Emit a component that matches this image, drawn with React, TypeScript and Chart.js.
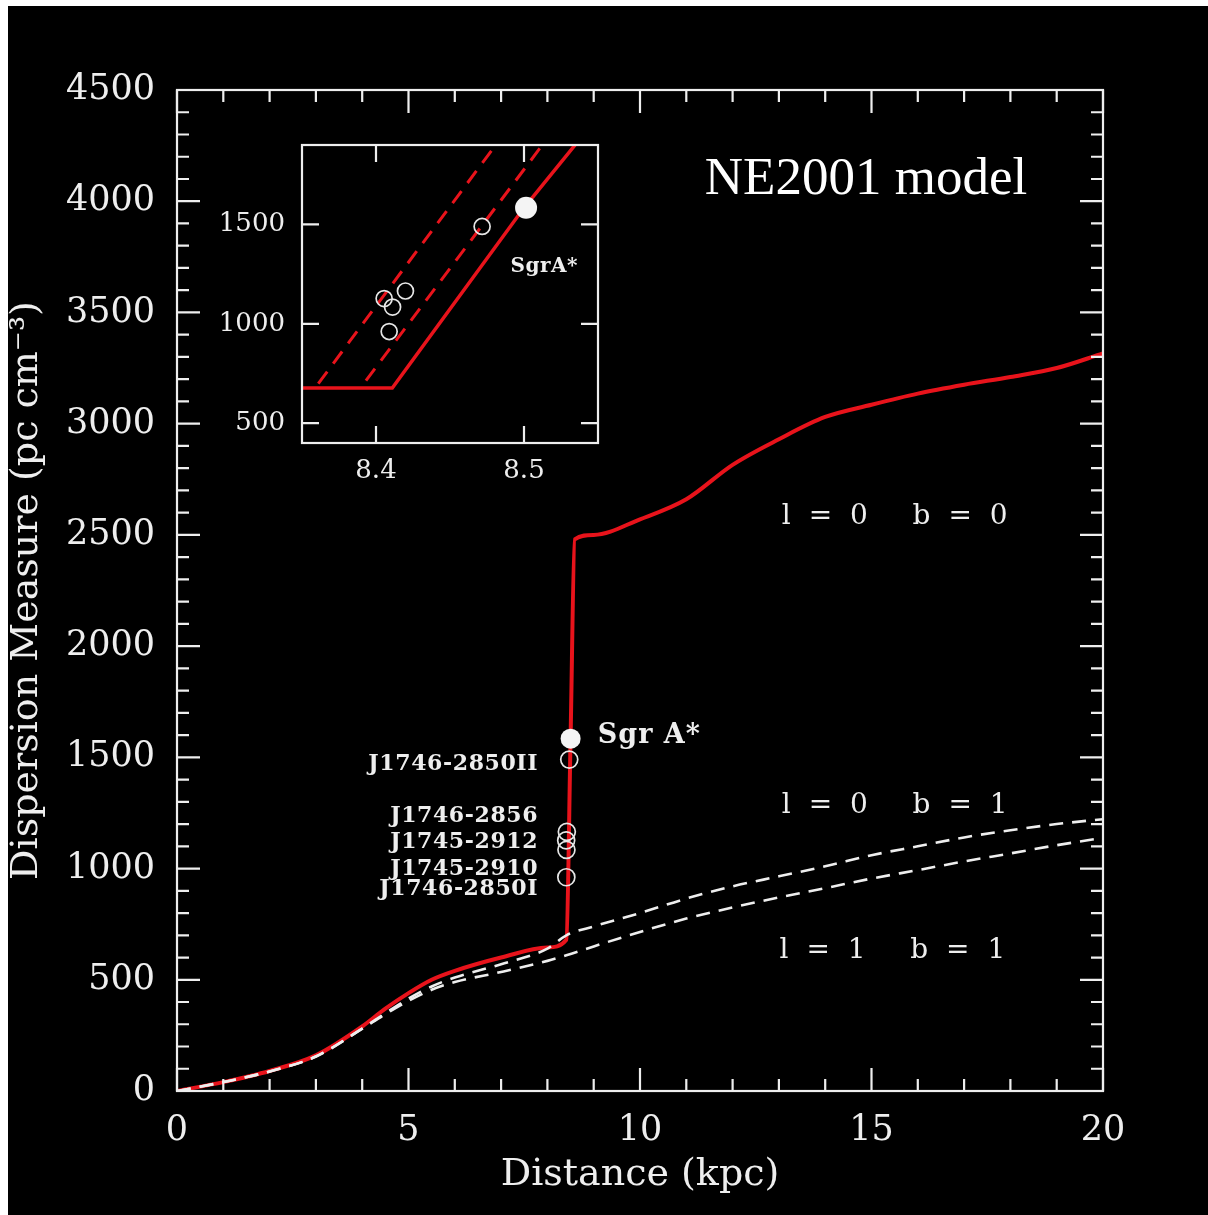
import React, { useEffect, useRef } from 'react';
import { Chart, registerables } from 'chart.js';
Chart.register(...registerables);

// ---------- data ----------
// l = 0, b = 0 (solid red)
const redDist = [0, 1, 2, 3, 4, 4.5, 5, 5.5, 6, 7, 8, 8.41, 8.5, 8.59, 9, 10, 11, 12, 13, 14, 15, 16, 17, 18, 19, 20];
const redDM = [0, 40, 90, 160, 290, 370, 440, 500, 540, 600, 645, 680, 1580, 2480, 2500, 2570, 2660, 2815, 2930, 3030, 3085, 3135, 3175, 3210, 3250, 3316];
// l = 0, b = 1 (white dashed, upper)
const b1Dist = [0, 1, 2, 3, 4, 4.5, 5, 5.5, 6, 7, 8, 8.41, 9, 10, 11, 12, 13, 14, 15, 16, 17, 18, 19, 20];
const b1DM = [0, 40, 88, 155, 280, 350, 415, 470, 510, 570, 640, 700, 740, 800, 865, 920, 965, 1010, 1060, 1100, 1140, 1172, 1200, 1222];
// l = 1, b = 1 (white dashed, lower)
const l1Dist = [0, 1, 2, 3, 4, 4.5, 5, 5.5, 6, 7, 8, 8.41, 9, 10, 11, 12, 13, 14, 15, 16, 17, 18, 19, 20];
const l1DM = [0, 40, 88, 155, 280, 345, 405, 455, 490, 535, 585, 610, 650, 715, 775, 825, 870, 912, 955, 993, 1032, 1068, 1105, 1138];
// pulsars (open circles)
const pulsarNames = ['J1746-2850II', 'J1746-2856', 'J1745-2912', 'J1745-2910', 'J1746-2850I'];
const pulsarDist = [8.4717, 8.4199, 8.4055, 8.4112, 8.4089];
const pulsarDM = [1490, 1165, 1127, 1084, 961];
// Sgr A* (filled)
const sgrDist = [8.5014];
const sgrDM = [1584];
// inset lines
const insetSolidDist = [8.35, 8.411, 8.5, 8.5356];
const insetSolidDM = [677, 677, 1584, 1910];
const insetDash1Dist = [8.361, 8.4822];
const insetDash1DM = [699, 1913];
const insetDash2Dist = [8.3932, 8.5137];
const insetDash2DM = [714, 1913];
// tick labels
const mainXTicks = [0, 5, 10, 15, 20];
const mainYTicks = [0, 500, 1000, 1500, 2000, 2500, 3000, 3500, 4000, 4500];
const insetXTicks = [8.4, 8.5];
const insetYTicks = [500, 1000, 1500];

// ---------- styles ----------
const WHITE = '#eeeeee';
const RED = '#e8131b';
const SERIF = "'DejaVu Serif', serif";
const TIMES = "'Liberation Serif', serif";

const pts = (xs: number[], ys: number[]) => xs.map((x, i) => ({ x, y: ys[i] }));

const frameTicksPlugin = {
  id: 'frameTicks',
  afterDatasetsDraw(chart: any) {
    const o = chart.options.plugins.frameTicks;
    if (!o) return;
    const { ctx, chartArea: a, scales } = chart;
    const xs = scales.x, ys = scales.y;
    ctx.save();
    ctx.strokeStyle = o.color;
    ctx.lineWidth = o.lineWidth;
    ctx.beginPath();
    const xMaj = xs.ticks.map((t: any) => t.value);
    const yMaj = ys.ticks.map((t: any) => t.value);
    const isMaj = (v: number, arr: number[]) => arr.some((m) => Math.abs(m - v) < 1e-6);
    const vals = (min: number, max: number, step: number) => {
      const out: number[] = [];
      if (!step) return out;
      for (let i = Math.ceil(min / step - 1e-9); i * step <= max + 1e-9; i++) out.push(+(i * step).toFixed(6));
      return out;
    };
    const xv = Array.from(new Set([...xMaj, ...vals(xs.min, xs.max, o.xMinor)]));
    const yv = Array.from(new Set([...yMaj, ...vals(ys.min, ys.max, o.yMinor)]));
    xv.forEach((v: number) => {
      const p = xs.getPixelForValue(v);
      const len = isMaj(v, xMaj) ? o.majorLen : o.minorLen;
      ctx.moveTo(p, a.bottom); ctx.lineTo(p, a.bottom - len);
      ctx.moveTo(p, a.top); ctx.lineTo(p, a.top + len);
    });
    yv.forEach((v: number) => {
      const p = ys.getPixelForValue(v);
      const len = isMaj(v, yMaj) ? o.majorLen : o.minorLen;
      ctx.moveTo(a.left, p); ctx.lineTo(a.left + len, p);
      ctx.moveTo(a.right, p); ctx.lineTo(a.right - len, p);
    });
    ctx.stroke();
    ctx.strokeRect(a.left, a.top, a.right - a.left, a.bottom - a.top);
    ctx.restore();
  },
};

const notesPlugin = {
  id: 'notes',
  afterDraw(chart: any) {
    const items = chart.options.plugins.notes?.items;
    if (!items) return;
    const { ctx, scales } = chart;
    ctx.save();
    items.forEach((it: any) => {
      ctx.font = it.font;
      ctx.fillStyle = it.color || WHITE;
      ctx.textAlign = it.align || 'left';
      ctx.textBaseline = 'alphabetic';
      (ctx as any).letterSpacing = it.spacing || '0px';
      ctx.fillText(it.text, scales.x.getPixelForValue(it.x), scales.y.getPixelForValue(it.y));
    });
    ctx.restore();
  },
};

const pulsarNoteY = [1444, 1210, 1093, 972, 882];

const fitY = (w: number) => (s: any) => { s.width = w; s.paddingTop = 0; s.paddingBottom = 0; };
const fitX = (h: number) => (s: any) => { s.height = h; s.paddingLeft = 0; s.paddingRight = 0; };

export default function App() {
  const mainRef = useRef<HTMLCanvasElement>(null);
  const insetRef = useRef<HTMLCanvasElement>(null);

  useEffect(() => {
    const circleSet = (xs: number[], ys: number[], r: number) => ({
      data: pts(xs, ys), showLine: false, pointRadius: r, pointBorderWidth: 1.7,
      pointBorderColor: '#e6e6e6', pointBackgroundColor: 'rgba(0,0,0,0)', order: 0,
    });
    const sgrSet = (r: number) => ({
      data: pts(sgrDist, sgrDM), showLine: false, pointRadius: r, pointBorderWidth: 0,
      pointBackgroundColor: '#f4f4f4', pointBorderColor: '#f4f4f4', order: 0,
    });

    const main = new Chart(mainRef.current!, {
      type: 'scatter',
      data: {
        datasets: [
          { data: pts(b1Dist, b1DM), showLine: true, borderColor: WHITE, borderWidth: 2.6, borderDash: [14, 9], pointRadius: 0, cubicInterpolationMode: 'monotone', order: 1 },
          { data: pts(l1Dist, l1DM), showLine: true, borderColor: WHITE, borderWidth: 2.6, borderDash: [14, 9], pointRadius: 0, cubicInterpolationMode: 'monotone', order: 1 },
          { data: pts(redDist, redDM), showLine: true, borderColor: RED, borderWidth: 4, pointRadius: 0, cubicInterpolationMode: 'monotone', order: 2 },
          circleSet(pulsarDist, pulsarDM, 8.5) as any,
          sgrSet(10) as any,
        ],
      } as any,
      plugins: [frameTicksPlugin, notesPlugin],
      options: {
        responsive: false, animation: false, devicePixelRatio: 1,
        layout: { padding: { top: 84, right: 105, left: 0, bottom: 0 } },
        plugins: {
          legend: { display: false }, tooltip: { enabled: false },
          frameTicks: { color: WHITE, lineWidth: 2.2, majorLen: 23, minorLen: 12, xMinor: 1, yMinor: 100 },
          notes: {
            items: [
              { text: 'NE2001 model', x: 14.88, y: 4032, align: 'center', font: `53px ${TIMES}`, color: '#ffffff' },
              { text: 'Sgr A*', x: 9.09, y: 1566, align: 'left', font: `bold 27px ${SERIF}`, spacing: '1px' },
              ...pulsarNames.map((n, i) => ({ text: n, x: 7.8, y: pulsarNoteY[i], align: 'right', font: `bold 22px ${SERIF}`, spacing: '0.6px' })),
              { text: 'l = 0   b = 0', x: 15.55, y: 2547, align: 'center', font: `28px ${SERIF}`, spacing: '4.5px' },
              { text: 'l = 0   b = 1', x: 15.55, y: 1251, align: 'center', font: `28px ${SERIF}`, spacing: '4.5px' },
              { text: 'l = 1   b = 1', x: 15.5, y: 598, align: 'center', font: `28px ${SERIF}`, spacing: '4.5px' },
            ],
          },
        } as any,
        scales: {
          x: {
            type: 'linear', min: 0, max: 20,
            afterFit: fitX(124),
            afterBuildTicks: (s: any) => { s.ticks = mainXTicks.map((v) => ({ value: v })); },
            ticks: { color: WHITE, font: { family: SERIF, size: 35 }, padding: 19, maxRotation: 0, callback: (v: any) => String(v) },
            grid: { display: false, drawTicks: false }, border: { display: false },
            title: { display: true, text: 'Distance (kpc)', color: WHITE, font: { family: SERIF, size: 38, lineHeight: 1 }, padding: { top: 0, bottom: 21 } },
          },
          y: {
            type: 'linear', min: 0, max: 4500,
            afterFit: fitY(169),
            afterBuildTicks: (s: any) => { s.ticks = mainYTicks.map((v) => ({ value: v })); },
            ticks: { color: WHITE, font: { family: SERIF, size: 35 }, padding: 22, callback: (v: any) => String(v) },
            grid: { display: false, drawTicks: false }, border: { display: false },
            title: { display: true, text: 'Dispersion Measure (pc cm⁻³)', color: WHITE, font: { family: SERIF, size: 38, lineHeight: 1 }, padding: { top: 0, bottom: 0 } },
          },
        } as any,
      },
    });

    const inset = new Chart(insetRef.current!, {
      type: 'scatter',
      data: {
        datasets: [
          { data: pts(insetDash1Dist, insetDash1DM), showLine: true, borderColor: RED, borderWidth: 3, borderDash: [15, 10], pointRadius: 0, order: 2 },
          { data: pts(insetDash2Dist, insetDash2DM), showLine: true, borderColor: RED, borderWidth: 3, borderDash: [15, 10], pointRadius: 0, order: 2 },
          { data: pts(insetSolidDist, insetSolidDM), showLine: true, borderColor: RED, borderWidth: 3.5, pointRadius: 0, order: 1 },
          circleSet(pulsarDist, pulsarDM, 8) as any,
          sgrSet(11) as any,
        ],
      } as any,
      plugins: [frameTicksPlugin, notesPlugin],
      options: {
        responsive: false, animation: false, devicePixelRatio: 1,
        layout: { padding: { top: 20, right: 22, left: 0, bottom: 0 } },
        plugins: {
          legend: { display: false }, tooltip: { enabled: false },
          frameTicks: { color: WHITE, lineWidth: 2.2, majorLen: 17, minorLen: 0, xMinor: 0, yMinor: 0 },
          notes: { items: [{ text: 'SgrA*', x: 8.5137, y: 1260, align: 'center', font: `bold 20px ${SERIF}`, spacing: '0.5px' }] },
        } as any,
        scales: {
          x: {
            type: 'linear', min: 8.35, max: 8.55,
            afterFit: fitX(62),
            afterBuildTicks: (s: any) => { s.ticks = insetXTicks.map((v) => ({ value: v })); },
            ticks: { color: WHITE, font: { family: SERIF, size: 26 }, padding: 13, maxRotation: 0, callback: (v: any) => Number(v).toFixed(1) },
            grid: { display: false, drawTicks: false }, border: { display: false },
          },
          y: {
            type: 'linear', min: 400, max: 1900,
            afterFit: fitY(102),
            afterBuildTicks: (s: any) => { s.ticks = insetYTicks.map((v) => ({ value: v })); },
            ticks: { color: WHITE, font: { family: SERIF, size: 26 }, padding: 17, callback: (v: any) => String(v) },
            grid: { display: false, drawTicks: false }, border: { display: false },
          },
        } as any,
      },
    });

    return () => { main.destroy(); inset.destroy(); };
  }, []);

  return (
    <div style={{ position: 'absolute', left: 8, top: 6, width: 1200, height: 1209, background: '#000', overflow: 'hidden' }}>
      <canvas ref={mainRef} width={1200} height={1209} style={{ position: 'absolute', left: 0, top: 0 }} />
      <canvas ref={insetRef} width={420} height={380} style={{ position: 'absolute', left: 192, top: 119 }} />
    </div>
  );
}
